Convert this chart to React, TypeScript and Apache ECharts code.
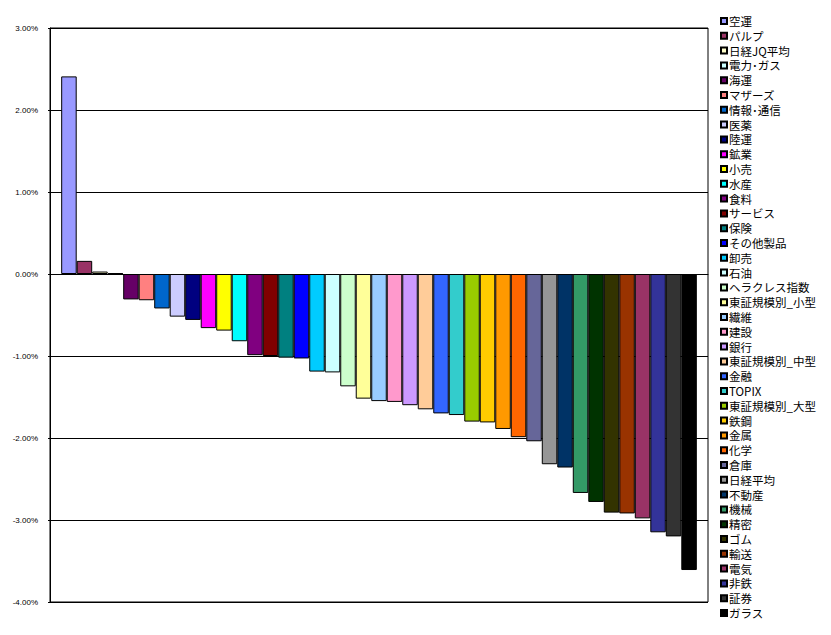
import React, { useEffect, useRef } from "react";
import * as echarts from "echarts";

const names = [
  "空運", "パルプ", "日経JQ平均", "電力･ガス", "海運", "マザーズ", "情報･通信", "医薬", "陸運", "鉱業",
  "小売", "水産", "食料", "サービス", "保険", "その他製品", "卸売", "石油", "ヘラクレス指数", "東証規模別_小型",
  "繊維", "建設", "銀行", "東証規模別_中型", "金融", "TOPIX", "東証規模別_大型", "鉄鋼", "金属", "化学",
  "倉庫", "日経平均", "不動産", "機械", "精密", "ゴム", "輸送", "電気", "非鉄", "証券", "ガラス",
];

// percent change values
const values = [
  2.41, 0.16, 0.03, 0.01, -0.31, -0.32, -0.42, -0.52, -0.56, -0.66,
  -0.69, -0.82, -0.99, -1.0, -1.02, -1.03, -1.19, -1.2, -1.37, -1.52,
  -1.55, -1.56, -1.6, -1.65, -1.7, -1.72, -1.8, -1.81, -1.89, -1.99,
  -2.04, -2.32, -2.36, -2.67, -2.78, -2.91, -2.92, -2.98, -3.15, -3.2, -3.61,
];

const colors = [
  "#9999FF", "#993366", "#FFFFCC", "#CCFFFF", "#660066", "#FF8080", "#0066CC", "#CCCCFF", "#000080", "#FF00FF",
  "#FFFF00", "#00FFFF", "#800080", "#800000", "#008080", "#0000FF", "#00CCFF", "#CCFFFF", "#CCFFCC", "#FFFF99",
  "#99CCFF", "#FF99CC", "#CC99FF", "#FFCC99", "#3366FF", "#33CCCC", "#99CC00", "#FFCC00", "#FF9900", "#FF6600",
  "#666699", "#969696", "#003366", "#339966", "#003300", "#333300", "#993300", "#993366", "#333399", "#333333", "#000000",
];

const yMin = -4;
const yMax = 3;
const yStep = 1;

export default function App() {
  const ref = useRef<HTMLDivElement>(null);
  useEffect(() => {
    if (!ref.current) return;
    const chart = echarts.init(ref.current, undefined, { renderer: "svg" });
    chart.setOption({
      animation: false,
      backgroundColor: "#ffffff",
      grid: {
        left: 50,
        top: 28,
        right: 123,
        bottom: 33,
        show: true,
        borderColor: "#000",
        borderWidth: 1,
        backgroundColor: "transparent",
      },
      legend: {
        orient: "vertical",
        left: 720,
        top: 15,
        itemWidth: 6,
        itemHeight: 6,
        itemGap: 2.8,
        icon: "rect",
        padding: 0,
        textStyle: {
          fontFamily: "'Noto Sans CJK JP', sans-serif",
          fontSize: 11.5,
          lineHeight: 12,
          color: "#000",
          padding: [0, 0, 0, -3],
        },
        data: names,
      },
      xAxis: {
        type: "category",
        data: [""],
        axisLine: { show: true, onZero: true, lineStyle: { color: "#000", width: 1 } },
        axisTick: { show: false },
        axisLabel: { show: false },
      },
      yAxis: {
        type: "value",
        min: yMin,
        max: yMax,
        interval: yStep,
        axisLine: { show: true, lineStyle: { color: "#000", width: 1 } },
        axisTick: { show: true, length: 2, lineStyle: { color: "#000" } },
        splitLine: { show: true, lineStyle: { color: "#000", width: 1 } },
        axisLabel: {
          margin: 12,
          color: "#000",
          fontSize: 8,
          fontFamily: "'Liberation Sans', Arial, sans-serif",
          formatter: (v: number) => v.toFixed(2) + "%",
        },
      },
      series: names.map((n, i) => ({
        name: n,
        type: "bar",
        data: [values[i]],
        barGap: "0%",
        barCategoryGap: "3.4%",
        itemStyle: { color: colors[i], borderColor: "#000", borderWidth: 1 },
      })),
    });
    return () => chart.dispose();
  }, []);
  return (
    <div
      ref={ref}
      style={{ position: "fixed", left: 0, top: 0, width: 831, height: 635, background: "#fff" }}
    />
  );
}
